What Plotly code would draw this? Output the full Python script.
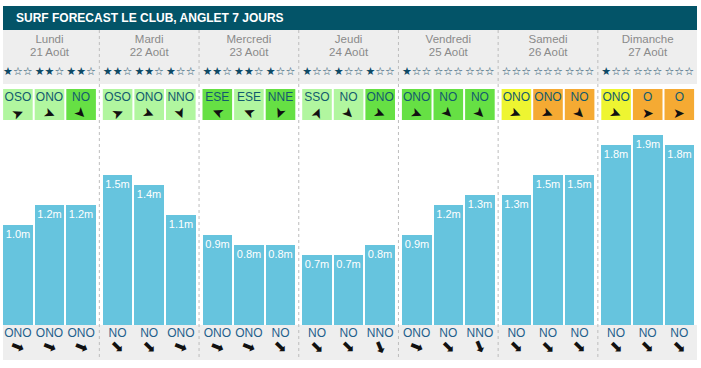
import plotly.graph_objects as go

# ---------------- data ----------------
days = ["Lundi", "Mardi", "Mercredi", "Jeudi", "Vendredi", "Samedi", "Dimanche"]
dates = ["21 Août", "22 Août", "23 Août", "24 Août", "25 Août", "26 Août", "27 Août"]
wave_heights = [1.0, 1.2, 1.2, 1.5, 1.4, 1.1, 0.9, 0.8, 0.8, 0.7, 0.7, 0.8,
                0.9, 1.2, 1.3, 1.3, 1.5, 1.5, 1.8, 1.9, 1.8]
star_ratings = [1, 2, 2, 2, 2, 1, 2, 2, 1, 1, 1, 1, 1, 0, 0, 0, 0, 0, 1, 0, 0]
wind_dirs = ["OSO", "ONO", "NO", "OSO", "ONO", "NNO", "ESE", "ESE", "NNE",
             "SSO", "NO", "ONO", "ONO", "NO", "NO", "ONO", "ONO", "NO",
             "ONO", "O", "O"]
wind_levels = [0, 0, 1, 0, 0, 0, 1, 0, 1, 0, 0, 1, 1, 1, 1, 2, 3, 3, 2, 3, 3]
swell_dirs = ["ONO", "ONO", "ONO", "NO", "NO", "ONO", "ONO", "ONO", "NO",
              "NO", "NO", "NNO", "ONO", "NO", "NNO", "NO", "NO", "NO",
              "NO", "NO", "NO"]
title_text = "SURF FORECAST LE CLUB, ANGLET 7 JOURS"

# ---------------- styling / layout constants ----------------
W, H = 701, 368
DAY0, DAY_W, SLOT_W, BAR_W = 49.5, 99.7, 31.6, 29.6
LEFT, RIGHT = 3, 697
BASE_PX = 325          # pixel row of 0 m
PX_PER_M = 100
COMPASS = {"N": 0, "NNE": 22.5, "NE": 45, "ENE": 67.5, "E": 90, "ESE": 112.5,
           "SE": 135, "SSE": 157.5, "S": 180, "SSO": 202.5, "SO": 225,
           "OSO": 247.5, "O": 270, "ONO": 292.5, "NO": 315, "NNO": 337.5}
LEVEL_COLORS = ["#b1f69f", "#66e044", "#eef531", "#f5aa33"]
HEADER_BG = "#035468"
GRAY_BG = "#eeeeee"
BAR_COLOR = "#66c4de"
TEXT_DARK = "#125a6e"
SWELL_TEXT = "#1f5f8c"
DAY_TEXT = "#8a8a8a"
FONT = "Arial, Liberation Sans, sans-serif"

n = len(wave_heights)
slot_x = [DAY0 + (i // 3) * DAY_W + (i % 3 - 1) * SLOT_W for i in range(n)]
day_x = [DAY0 + d * DAY_W for d in range(len(days))]

fig = go.Figure()

# wave height bars (metres axis)
fig.add_trace(go.Bar(
    x=slot_x, y=wave_heights, width=BAR_W,
    marker=dict(color=BAR_COLOR, line=dict(width=0)),
    text=[f"{h:.1f}m" for h in wave_heights],
    textposition="inside", insidetextanchor="end", textangle=0,
    constraintext="none",
    textfont=dict(color="white", size=11, family=FONT),
    hoverinfo="skip", yaxis="y",
))

# day names / dates
fig.add_trace(go.Scatter(x=day_x, y=[40.5] * len(days), text=days, mode="text",
                         textfont=dict(color=DAY_TEXT, size=11.5, family=FONT),
                         yaxis="y2", hoverinfo="skip"))
fig.add_trace(go.Scatter(x=day_x, y=[53.5] * len(days), text=dates, mode="text",
                         textfont=dict(color=DAY_TEXT, size=11.5, family=FONT),
                         yaxis="y2", hoverinfo="skip"))
# stars
fig.add_trace(go.Scatter(x=slot_x, y=[72.5] * n,
                         text=["★" * s + "☆" * (3 - s) for s in star_ratings],
                         mode="text",
                         textfont=dict(color="#0e4a66", size=11, family="DejaVu Sans"),
                         yaxis="y2", hoverinfo="skip"))
# wind direction labels
fig.add_trace(go.Scatter(x=slot_x, y=[98] * n, text=wind_dirs, mode="text",
                         textfont=dict(color=TEXT_DARK, size=12, family=FONT),
                         yaxis="y2", hoverinfo="skip"))
# swell direction labels
fig.add_trace(go.Scatter(x=slot_x, y=[333.5] * n, text=swell_dirs, mode="text",
                         textfont=dict(color=SWELL_TEXT, size=12, family=FONT),
                         yaxis="y2", hoverinfo="skip"))

shapes = []
# header bar
shapes.append(dict(type="rect", xref="x", yref="y2", x0=LEFT, x1=RIGHT, y0=6, y1=30,
                   fillcolor=HEADER_BG, line=dict(width=0), layer="below"))
# top gray band
shapes.append(dict(type="rect", xref="x", yref="y2", x0=LEFT, x1=RIGHT, y0=30, y1=84,
                   fillcolor=GRAY_BG, line=dict(width=0), layer="below"))
# bottom gray band
shapes.append(dict(type="rect", xref="x", yref="y2", x0=LEFT, x1=RIGHT, y0=BASE_PX, y1=360,
                   fillcolor=GRAY_BG, line=dict(width=0), layer="below"))
# wind boxes
for xc, lvl in zip(slot_x, wind_levels):
    shapes.append(dict(type="rect", xref="x", yref="y2", x0=xc - BAR_W / 2, x1=xc + BAR_W / 2,
                       y0=89, y1=120, fillcolor=LEVEL_COLORS[lvl], line=dict(width=0),
                       layer="below"))
# day separators
for d in range(len(days) - 1):
    xs = DAY0 + (d + 0.5) * DAY_W
    shapes.append(dict(type="line", xref="x", yref="y2", x0=xs, x1=xs, y0=30, y1=360,
                       line=dict(color="#bdbdbd", width=1, dash="3px,3px"), layer="below"))

annotations = [dict(x=14, y=18, xref="x", yref="y2", text="<b>" + title_text + "</b>",
                    showarrow=False, xanchor="left", yanchor="middle",
                    font=dict(color="white", size=12, family=FONT))]
# wind arrows (point where wind blows to)
for xc, wd in zip(slot_x, wind_dirs):
    toward = (COMPASS[wd] + 180) % 360
    annotations.append(dict(x=xc, y=113, xref="x", yref="y2", text="➤", showarrow=False,
                            textangle=toward - 90, xanchor="center", yanchor="middle",
                            font=dict(color="#111111", size=14, family="DejaVu Sans")))
# swell arrows
for xc, sd in zip(slot_x, swell_dirs):
    toward = (COMPASS[sd] + 180) % 360
    annotations.append(dict(x=xc, y=346.5, xref="x", yref="y2", text="➡", showarrow=False,
                            textangle=toward - 90, xanchor="center", yanchor="middle",
                            font=dict(color="#111111", size=16, family="DejaVu Sans")))

fig.update_layout(
    width=W, height=H, margin=dict(l=0, r=0, t=0, b=0, pad=0),
    paper_bgcolor="white", plot_bgcolor="white", showlegend=False,
    xaxis=dict(range=[0, W], visible=False, fixedrange=True),
    yaxis=dict(range=[-(H - BASE_PX) / PX_PER_M, BASE_PX / PX_PER_M],
               visible=False, fixedrange=True),
    yaxis2=dict(range=[H, 0], overlaying="y", visible=False, fixedrange=True),
    shapes=shapes, annotations=annotations, bargap=0,
)

fig.write_html("out.html", config={"displayModeBar": False},
               post_script="document.body.style.margin='0';")
